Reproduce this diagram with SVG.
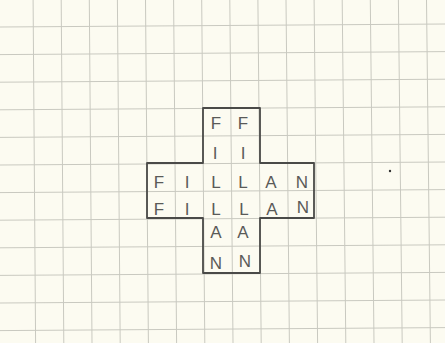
<svg xmlns="http://www.w3.org/2000/svg" width="445" height="343" viewBox="0 0 445 343">
<style>
.g{stroke:#c9c9c0;stroke-width:1;fill:none}
.c{stroke:#4a4a48;stroke-width:1.8;fill:none;stroke-linejoin:round}
.t{font-family:"Liberation Sans",Arial,sans-serif;font-size:17px;fill:#5a5a58;text-anchor:middle}
</style>
<rect width="445" height="343" fill="#fcfbf1"/>
<g id="grid" class="g">
<line x1="33.1" y1="0" x2="35.6" y2="343"/>
<line x1="61.2" y1="0" x2="63.8" y2="343"/>
<line x1="89.3" y1="0" x2="92.0" y2="343"/>
<line x1="117.4" y1="0" x2="120.2" y2="343"/>
<line x1="145.5" y1="0" x2="148.4" y2="343"/>
<line x1="173.6" y1="0" x2="176.6" y2="343"/>
<line x1="201.7" y1="0" x2="204.8" y2="343"/>
<line x1="229.8" y1="0" x2="233.0" y2="343"/>
<line x1="257.9" y1="0" x2="261.2" y2="343"/>
<line x1="286.0" y1="0" x2="289.4" y2="343"/>
<line x1="314.1" y1="0" x2="317.6" y2="343"/>
<line x1="342.2" y1="0" x2="345.8" y2="343"/>
<line x1="370.3" y1="0" x2="374.0" y2="343"/>
<line x1="398.4" y1="0" x2="402.2" y2="343"/>
<line x1="426.5" y1="0" x2="430.4" y2="343"/>
<line x1="0" y1="27.0" x2="445" y2="24.0"/>
<line x1="0" y1="54.6" x2="445" y2="51.6"/>
<line x1="0" y1="82.2" x2="445" y2="79.2"/>
<line x1="0" y1="109.8" x2="445" y2="106.8"/>
<line x1="0" y1="137.4" x2="445" y2="134.4"/>
<line x1="0" y1="165.0" x2="445" y2="162.0"/>
<line x1="0" y1="192.6" x2="445" y2="189.6"/>
<line x1="0" y1="220.2" x2="445" y2="217.2"/>
<line x1="0" y1="247.8" x2="445" y2="244.8"/>
<line x1="0" y1="275.4" x2="445" y2="272.4"/>
<line x1="0" y1="303.0" x2="445" y2="300.0"/>
<line x1="0" y1="330.6" x2="445" y2="327.6"/>
</g>
<g id="cross">
<polygon class="c" points="203,108 260,108 260,163 314,163 314,218 260,218 260,273 203,273 203,218 147,218 147,163 203,163"/>
</g>
<g id="letters" class="t">
<text x="216" y="129">F</text><text x="243" y="129">F</text>
<text x="215" y="159">I</text><text x="243" y="159">I</text>
<text x="159" y="188">F</text><text x="187" y="188">I</text><text x="216" y="188">L</text><text x="243" y="188">L</text><text x="271" y="188">A</text><text x="302" y="188">N</text>
<text x="159" y="215">F</text><text x="187" y="215">I</text><text x="216" y="215">L</text><text x="244" y="215">L</text><text x="272" y="215">A</text><text x="303" y="213">N</text>
<text x="216" y="238">A</text><text x="243" y="238">A</text>
<text x="216" y="269">N</text><text x="245" y="267">N</text>
</g>
<circle id="dot" cx="390" cy="171" r="1.2" fill="#333"/>
</svg>
